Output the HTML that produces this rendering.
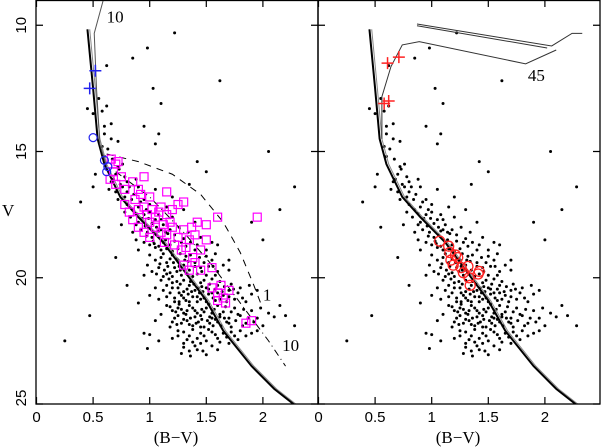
<!DOCTYPE html>
<html><head><meta charset="utf-8"><style>
body{margin:0;background:#fff}
svg{display:block}
.tk{font-family:"Liberation Sans",sans-serif;font-size:15px}
.sf{font-family:"Liberation Serif",serif;font-size:17px}
</style></head><body>
<svg id="c" width="602" height="447" viewBox="0 0 602 447"></svg>
<script>
const xTicks=[0,0.5,1,1.5,2];
const xTickLabels=["0","0.5","1","1.5","2"];
const yTicks=[10,15,20,25];
const yTickLabels=["10","15","20","25"];
const fieldStars=[[0.62,11.6],[0.98,10.9],[1.22,10.3],[0.85,11.3],[1.03,12.5],[1.1,13.1],[0.55,12.9],[0.45,13.3],[0.5,13.5],[0.58,13.4],[0.62,13.2],[0.6,14.0],[0.66,13.9],[0.66,14.5],[0.72,14.6],[0.58,14.8],[0.95,14.0],[1.08,14.3],[1.05,14.7],[1.42,15.4],[1.5,15.8],[0.52,15.9],[0.72,15.6],[0.76,15.5],[0.6,15.2],
[1.62,12.2],[2.05,15.0],[2.28,16.4],[2.15,17.3],[1.9,17.8],[2.0,18.5],[0.39,17.0],[0.25,22.5],[0.47,21.5],[0.5,16.4],[0.55,18.0],[0.7,19.2],[0.8,20.3],[0.9,21.0],
[0.68,16.1],[0.74,16.3],[0.8,16.2],[0.9,16.4],[0.7,16.6],[0.78,16.8],[0.86,16.7],[0.95,16.9],[1.05,16.5],[0.72,16.9],[1.2,16.8],[1.35,16.3],[0.64,16.5],[0.88,16.1],
[0.8,17.1],[0.85,17.3],[0.9,17.2],[0.95,17.5],[1.0,17.4],[0.83,17.6],[0.9,17.8],[1.05,17.7],[1.12,17.9],[0.78,17.4],[0.96,17.95],[1.2,17.6],[1.3,17.3],[1.0,17.1],[0.88,17.9],[1.15,17.2],[1.4,17.8],[0.75,17.9],[1.08,17.5],
[0.92,18.1],[0.98,18.2],[1.02,18.4],[1.06,18.3],[1.1,18.1],[1.14,18.5],[0.95,18.6],[1.0,18.7],[1.05,18.8],[1.1,18.9],[1.18,18.7],[1.22,18.3],[1.28,18.6],[1.34,18.2],[1.4,18.9],[0.88,18.5],[1.12,18.6],[1.2,18.95],[0.9,18.9],[1.08,18.15],[1.25,18.85],[1.45,18.4],[1.6,18.7],[0.85,18.2],[1.03,18.55],[1.16,18.25],[1.32,18.75],
[1.0,19.1],[1.05,19.3],[1.1,19.2],[1.15,19.4],[1.2,19.1],[1.25,19.3],[1.3,19.5],[1.08,19.6],[1.13,19.7],[1.18,19.8],[1.22,19.6],[1.28,19.9],[1.35,19.7],[1.4,19.4],[1.45,19.6],[1.5,19.9],[1.02,19.75],[0.98,19.5],[1.12,19.95],[1.24,19.25],[1.32,19.15],[1.38,19.95],[1.55,19.3],[1.6,19.75],[1.16,19.55],[1.27,19.7],[1.06,19.85],[1.42,19.85],[1.2,19.95],[0.95,19.9],[1.65,19.5],[1.52,19.55],[1.34,19.35],[1.09,19.45],
[1.1,20.1],[1.15,20.3],[1.2,20.2],[1.25,20.4],[1.3,20.1],[1.35,20.3],[1.4,20.5],[1.45,20.2],[1.5,20.4],[1.55,20.6],[1.6,20.3],[1.18,20.6],[1.22,20.8],[1.28,20.7],[1.32,20.9],[1.38,20.75],[1.42,20.95],[1.48,20.8],[1.52,20.65],[1.58,20.9],[1.65,20.7],[1.7,20.5],[1.75,20.85],[1.12,20.5],[1.08,20.85],[1.05,20.4],[1.3,20.55],[1.44,20.6],[1.36,20.15],[1.26,20.95],[1.62,20.15],[1.8,20.4],[1.9,20.65],[1.85,20.95],[1.0,20.7],[1.55,20.05],[1.68,20.95],[1.24,20.15],[1.46,20.35],[1.34,20.65],
[1.15,21.1],[1.2,21.3],[1.25,21.2],[1.3,21.4],[1.35,21.1],[1.4,21.3],[1.45,21.5],[1.5,21.2],[1.55,21.4],[1.6,21.1],[1.65,21.35],[1.7,21.6],[1.75,21.2],[1.8,21.5],[1.22,21.6],[1.28,21.8],[1.33,21.7],[1.38,21.9],[1.43,21.75],[1.48,21.95],[1.53,21.8],[1.58,21.65],[1.63,21.9],[1.68,21.75],[1.85,21.8],[1.9,21.3],[1.95,21.6],[2.05,21.4],[2.1,21.55],[1.1,21.45],[1.05,21.7],[1.18,21.95],[1.4,21.55],[1.52,21.05],[1.72,21.95],[1.62,21.55],[1.32,21.45],[1.26,21.05],[1.46,21.25],[2.0,21.9],
[1.25,22.1],[1.35,22.3],[1.45,22.2],[1.5,22.5],[1.4,22.7],[1.3,22.6],[1.55,22.15],[1.6,22.4],[1.65,22.2],[1.75,22.3],[1.8,22.1],[1.35,22.9],[1.28,23.0],[1.47,22.9],[1.2,22.4],[0.95,22.2],[1.0,22.25],[0.98,22.8],[1.08,22.5],[1.7,22.6],[1.9,22.2],[2.28,21.9],
[0.6,14.3],[0.63,14.9],[0.67,15.3],[0.7,15.9],[0.73,15.7],[0.78,16.0],[0.82,16.4],[0.66,16.2],[0.76,16.4],[0.84,16.9],[0.8,16.6],[0.92,17.0],[0.97,17.3],[0.88,17.45],[0.93,17.65],[1.02,17.85],[1.1,17.7],[0.99,17.65],[1.06,18.0],[1.18,18.1],[1.26,18.0],[1.14,18.2],
[0.97,18.35],[1.04,18.65],[1.08,18.75],[1.15,18.85],[1.22,18.55],[1.3,18.45],[1.36,18.6],[1.42,18.7],[1.5,18.9],[1.55,18.6],[1.12,19.05],[1.18,19.25],[1.27,19.05],[1.36,19.1],[1.44,19.2],[1.5,19.15],[1.58,19.05],[1.21,19.4],[1.31,19.3],[1.4,19.55],[1.48,19.4],[1.56,19.55],[1.7,19.3],[1.26,19.55],[1.33,19.85],[1.46,19.75],[1.58,19.9],[1.7,19.7],[1.15,19.85],[1.24,19.75],
[1.17,20.05],[1.27,20.25],[1.33,20.45],[1.39,20.25],[1.43,20.4],[1.48,20.1],[1.53,20.25],[1.58,20.45],[1.64,20.55],[1.72,20.25],[1.78,20.6],[1.2,20.4],[1.26,20.6],[1.37,20.55],[1.42,20.75],[1.47,20.55],[1.56,20.8],[1.62,20.85],[1.7,20.75],[1.82,20.8],[1.95,20.5],[1.3,20.8],[1.35,20.95],[1.45,20.85],[1.5,20.95],[1.6,20.6],[1.66,20.35],[1.15,20.75],[1.22,20.95],[1.52,20.45],[1.74,20.45],[1.88,20.3],
[1.18,21.15],[1.23,21.35],[1.28,21.25],[1.33,21.3],[1.38,21.2],[1.42,21.4],[1.48,21.35],[1.53,21.55],[1.57,21.25],[1.62,21.45],[1.67,21.15],[1.72,21.35],[1.78,21.45],[1.83,21.25],[1.87,21.6],[1.25,21.5],[1.3,21.65],[1.36,21.6],[1.41,21.8],[1.46,21.65],[1.51,21.7],[1.56,21.9],[1.6,21.75],[1.66,21.6],[1.7,21.8],[1.76,21.7],[1.82,21.9],[1.92,21.75],[1.35,21.85],[1.45,21.95],[1.55,21.6],[1.24,21.85],[1.2,21.75],[1.98,21.2],[2.15,21.1],[2.2,21.5],
[1.3,22.15],[1.38,22.05],[1.42,22.4],[1.48,22.3],[1.52,22.05],[1.58,22.25],[1.62,22.55],[1.68,22.35],[1.72,22.15],[1.78,22.45],[1.85,22.3],[1.33,22.45],[1.38,22.55],[1.45,22.6],[1.55,22.7],[1.3,22.75],[1.42,22.85],[1.5,23.05],[1.36,23.1],[1.6,22.85],[1.25,22.3],[1.95,22.1]];
const zams=[[0.45,10.16],[0.5,12.5],[0.54,14.5],[0.6,15.5],[0.74,16.8],[0.9,17.6],[1.12,18.6],[1.3,19.7],[1.5,20.9],[1.65,22.1],[1.9,23.5],[2.1,24.4],[2.27,25]];
const iso10Left=[[0.59,9.0],[0.51,10.32],[0.53,12.5],[0.56,14.7],[0.62,15.6]];
const pms1=[[0.62,15.1],[0.9,15.4],[1.2,15.9],[1.45,16.7],[1.65,17.8],[1.8,19.0],[1.92,20.3],[1.98,21.0]];
const pms10=[[0.7,15.8],[1.0,16.8],[1.3,18.2],[1.55,19.5],[1.75,20.7],[1.9,21.6],[2.05,22.5],[2.2,23.5]];
const iso45a=[[0.56,14.5],[0.56,12.83],[0.64,11.64],[0.74,10.78],[0.89,10.65],[1.83,11.53],[2.1,10.98]];
const iso45b=[[0.87,9.95],[2.06,10.82],[2.24,10.32],[2.33,10.32]];
const iso45c=[[0.87,10.02],[2.02,10.9]];
const bluePlus=[[0.52,11.8],[0.47,12.5]];
const blueCircles=[[0.5,14.45],[0.6,15.35],[0.63,15.6],[0.62,15.8]];
const magentaSquares=[[0.66,15.3],[0.7,15.5],[0.68,15.8],[0.72,15.4],[0.65,16.1],[0.75,16.0],[0.7,16.3],[0.78,16.5],[0.85,16.2],[0.9,16.5],[0.92,16.7],[0.95,16.0],[1.0,16.8],[0.87,16.9],[1.15,16.6],[0.78,17.1],[0.82,17.4],[0.9,17.3],[0.95,17.2],[0.98,17.5],[1.02,17.3],[1.05,17.6],[1.0,17.8],[1.08,17.4],[1.1,17.2],[1.12,17.9],[1.15,17.5],[1.2,17.3],[1.25,17.1],[1.3,17.0],[1.05,18.0],[1.1,18.2],[1.15,18.3],[1.2,18.0],[1.25,18.4],[1.3,18.1],[1.22,18.7],[1.28,18.9],[1.35,18.5],[1.4,18.3],[1.32,18.8],[1.38,19.2],[1.45,18.9],[1.3,19.5],[1.4,19.4],[1.45,19.7],[1.35,19.7],[1.42,17.8],[1.5,17.9],[1.55,19.6],[1.55,20.4],[1.6,20.6],[1.63,20.3],[1.65,20.8],[1.7,20.5],[1.67,21.0],[1.6,20.9],[1.85,21.8],[1.9,21.7],[0.95,18.2],[1.0,18.4],[1.13,18.6],[1.5,18.5],[1.6,17.6],[1.18,17.8],[0.85,17.7],[0.9,18.0],[1.37,18.0],[1.95,17.6]];
const redPlus=[[0.61,11.5],[0.71,11.26],[0.58,13.1],[0.62,13.0]];
const redCircles=[[1.07,18.55],[1.15,18.75],[1.16,19.0],[1.21,19.1],[1.23,19.2],[1.17,19.3],[1.19,19.5],[1.32,19.55],[1.28,19.8],[1.33,20.0],[1.34,20.3],[1.42,19.75],[1.41,19.85],[1.26,19.6]];

const NS="http://www.w3.org/2000/svg";
const svg=document.getElementById('c');
const Y0=0,Y1=404,VMIN=9,VMAX=25;
const panels=[{x0:36,x1:318},{x0:318,x1:600}];
const PXU=113.2;
function sx(p,v){return panels[p].x0+0.5+v*PXU;}
function sy(v){return Y0+(v-VMIN)/(VMAX-VMIN)*(Y1-Y0);}
function mk(tag,attrs,parent){const e=document.createElementNS(NS,tag);for(const k in attrs)e.setAttribute(k,attrs[k]);(parent||svg).appendChild(e);return e;}
const clip=mk('clipPath',{id:'cl0'});mk('rect',{x:36,y:0,width:282,height:404},clip);
const clip2=mk('clipPath',{id:'cl1'});mk('rect',{x:318,y:0,width:282,height:404},clip2);

for(let p=0;p<2;p++){
  const g=mk('g',{'clip-path':'url(#cl'+p+')'});
  
  
  fieldStars.forEach(d=>{
    const c=mk('circle',{cx:sx(p,d[0]),cy:sy(d[1]),r:1.5,fill:'#000'},g);
    
    
  });
  const line=(data,style,name)=>{const e=mk('polyline',{points:data.map(d=>sx(p,d[0])+','+sy(d[1])).join(' '),fill:'none'},g);for(const k in style)e.setAttribute(k,style[k]);};
  line(zams.map(d=>[d[0]+0.02,d[1]]),{stroke:'#888','stroke-width':1},'grey-isochrone');
  line(zams,{stroke:'#000','stroke-width':2},'zams-line');
  if(p===0){
    line(iso10Left,{stroke:'#555','stroke-width':1},'isochrone-10');
    line(pms1,{stroke:'#000','stroke-width':1,'stroke-dasharray':'7,6'},'pms-isochrone-1');
    line(pms10,{stroke:'#000','stroke-width':1,'stroke-dasharray':'7,4,1,4'},'pms-isochrone-10');
    magentaSquares.forEach(d=>{
      const r=mk('rect',{x:sx(p,d[0])-4,y:sy(d[1])-4,width:8,height:8,fill:'none',stroke:'#f0f','stroke-width':1.2},g);
      
      
    });
    blueCircles.forEach(d=>{
      const r=mk('circle',{cx:sx(p,d[0]),cy:sy(d[1]),r:4,fill:'none',stroke:'#22e','stroke-width':1.2},g);
      
      
    });
    bluePlus.forEach(d=>{
      const x=sx(p,d[0]),y=sy(d[1]);
      const r=mk('path',{d:`M${x-6} ${y}H${x+6}M${x} ${y-6}V${y+6}`,stroke:'#22e','stroke-width':1.5},g);
      
      
    });
  } else {
    line(iso45a,{stroke:'#333','stroke-width':1},'isochrone-45');
    line(iso45b,{stroke:'#333','stroke-width':1},'isochrone-45-upper');
    line(iso45c,{stroke:'#333','stroke-width':1},'isochrone-45-upper2');
    redCircles.forEach(d=>{
      const r=mk('circle',{cx:sx(p,d[0]),cy:sy(d[1]),r:5,fill:'none',stroke:'#f22','stroke-width':1.3},g);
      
      
    });
    redPlus.forEach(d=>{
      const x=sx(p,d[0]),y=sy(d[1]);
      const r=mk('path',{d:`M${x-6} ${y}H${x+6}M${x} ${y-6}V${y+6}`,stroke:'#f22','stroke-width':1.5},g);
      
      
    });
  }
  const f=mk('rect',{x:panels[p].x0,y:0.5,width:panels[p].x1-panels[p].x0,height:Y1-0.5,fill:'none',stroke:'#000','stroke-width':1.3});
  
  
  xTicks.forEach((t,i)=>{
    const x=sx(p,t);
    mk('path',{d:`M${x} ${Y1}V${Y1-7}M${x} 0V7`,stroke:'#000','stroke-width':1.2});
    const tx=mk('text',{x:x,y:422,'text-anchor':'middle',class:'tk'});tx.textContent=xTickLabels[i];
    
    
  });
  yTicks.forEach(t=>{
    const y=sy(t);
    mk('path',{d:`M${panels[p].x0} ${y}h7M${panels[p].x1} ${y}h-7`,stroke:'#000','stroke-width':1.2});
  });
  const xt=mk('text',{x:(panels[p].x0+panels[p].x1)/2-1,y:443,'text-anchor':'middle',class:'sf'});xt.textContent='(B\u2212V)';
  
  
}
yTicks.forEach((t,i)=>{
  const y=sy(t);
  const tx=mk('text',{x:0,y:0,'text-anchor':'middle',class:'tk',transform:`translate(26 ${t===25?Math.min(y,398):y}) rotate(-90)`});tx.textContent=yTickLabels[i];
  
  
});
const yl=mk('text',{x:2,y:216,class:'sf'});yl.textContent='V';


[[0,0.62,9.9,'10'],[0,2.0,20.9,'1'],[0,2.17,22.9,'10'],[1,1.85,12.2,'45']].forEach(a=>{
  const t=mk('text',{x:sx(a[0],a[1]),y:sy(a[2]),class:'sf'});t.textContent=a[3];
  
  
});
</script>
</body></html>
